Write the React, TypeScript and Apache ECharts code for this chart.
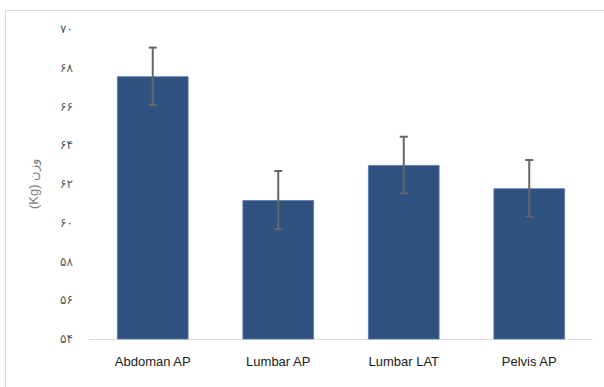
import React, { useEffect, useRef } from "react";
import * as echarts from "echarts";

const categories = ["Abdoman AP", "Lumbar AP", "Lumbar LAT", "Pelvis AP"];
const meanValues = [67.56, 61.17, 62.98, 61.78];
const errorValues = [1.48, 1.5, 1.46, 1.46];
const yTickLabels: Record<number, string> = {
  54: "۵۴", 56: "۵۶", 58: "۵۸", 60: "۶۰", 62: "۶۲", 64: "۶۴", 66: "۶۶", 68: "۶۸", 70: "۷۰",
};
const yAxisTitle = "(Kg) وزن";

export default function App() {
  const ref = useRef<HTMLDivElement>(null);
  useEffect(() => {
    if (!ref.current) return;
    const chart = echarts.init(ref.current, undefined, { renderer: "svg" });
    const errData = meanValues.map((v, i) => [i, v - errorValues[i], v + errorValues[i]]);
    chart.setOption({
      animation: false,
      backgroundColor: "#fff",
      graphic: [
        {
          type: "rect",
          shape: { x: 5.5, y: 10.5, width: 640, height: 420 },
          style: { fill: "none", stroke: "#D9D9D9", lineWidth: 1 },
          silent: true,
          z: -1,
        },
      ],
      grid: { left: 90, right: 12, top: 29, bottom: 48 },
      xAxis: {
        type: "category",
        data: categories,
        axisLine: { lineStyle: { color: "#D9D9D9", width: 1 } },
        axisTick: { show: false },
        axisLabel: {
          color: "#1a1a1a",
          fontFamily: "Liberation Sans",
          fontSize: 13,
          margin: 16,
        },
      },
      yAxis: {
        type: "value",
        min: 54,
        max: 70,
        interval: 2,
        splitLine: { show: false },
        axisLine: { show: false },
        axisTick: { show: false },
        axisLabel: {
          color: "#595959",
          fontFamily: "DejaVu Sans",
          fontSize: 12,
          margin: 17,
          formatter: (v: number) => yTickLabels[v] ?? String(v),
        },
        name: yAxisTitle,
        nameLocation: "middle",
        nameGap: 50,
        nameRotate: 90,
        nameTextStyle: {
          color: "#808080",
          fontFamily: "Liberation Sans",
          fontSize: 13,
        },
      },
      series: [
        {
          type: "bar",
          data: meanValues,
          barWidth: "57%",
          itemStyle: { color: "#2F5280", borderColor: "#5A7AA5", borderWidth: 0.8 },
        },
        {
          type: "custom",
          data: errData,
          z: 10,
          renderItem: (params: any, api: any) => {
            const x = api.value(0);
            const lo = api.coord([x, api.value(1)]);
            const hi = api.coord([x, api.value(2)]);
            const hw = 4;
            const style = { stroke: "#666666", lineWidth: 2 };
            return {
              type: "group",
              children: [
                { type: "line", shape: { x1: hi[0], y1: hi[1], x2: lo[0], y2: lo[1] }, style },
                { type: "line", shape: { x1: hi[0] - hw, y1: hi[1], x2: hi[0] + hw, y2: hi[1] }, style },
                { type: "line", shape: { x1: lo[0] - hw, y1: lo[1], x2: lo[0] + hw, y2: lo[1] }, style },
              ],
            };
          },
        },
      ],
    });
    return () => chart.dispose();
  }, []);
  return <div ref={ref} style={{ width: 604, height: 387, position: "absolute", left: 0, top: 0 }} />;
}
